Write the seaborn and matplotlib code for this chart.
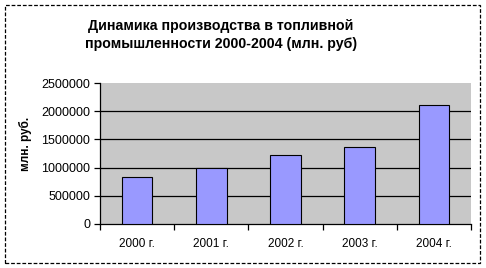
import matplotlib
matplotlib.use("Agg")
import matplotlib.pyplot as plt
import seaborn as sns
import pandas as pd
from matplotlib.patches import Rectangle
from matplotlib.ticker import FixedLocator

years = ["2000 г.", "2001 г.", "2002 г.", "2003 г.", "2004 г."]
values = [830000, 985000, 1215000, 1360000, 2105000]
yticks = [0, 500000, 1000000, 1500000, 2000000, 2500000]
title = "Динамика производства в топливной\nпромышленности 2000-2004 (млн. руб)"
ylabel = "млн. руб."

sns.set_style("white")
plt.rcParams["font.family"] = ["Liberation Sans", "DejaVu Sans"]
plt.rcParams["text.color"] = "black"
plt.rcParams["xtick.color"] = "black"
plt.rcParams["ytick.color"] = "black"
plt.rcParams["axes.labelcolor"] = "black"

df = pd.DataFrame({"year": years, "value": values})

W, H = 486, 268
fig = plt.figure(figsize=(W / 100, H / 100), dpi=100)
ax = fig.add_axes([100 / W, 1 - 224 / H, 371 / W, 141 / H])

sns.barplot(data=df, x="year", y="value", ax=ax, color="#9999ff",
            width=0.41, edgecolor="black", linewidth=0.8, saturation=1, zorder=3)

ax.set_facecolor("#c8c8c8")
ax.set_ylim(0, 2500000)
ax.set_xlim(-0.5, len(years) - 0.5)
ax.set_yticks(yticks)
ax.set_yticklabels([str(v) for v in yticks], fontsize=9)
for v in yticks[1:-1]:
    ax.axhline(v, color="black", linewidth=0.9, zorder=2)

ax.tick_params(axis="x", which="major", length=0, labelsize=8.5, pad=10)
ax.xaxis.set_minor_locator(FixedLocator([i - 0.5 for i in range(len(years) + 1)]))
ax.tick_params(axis="x", which="minor", length=4, width=0.9, color="black", direction="out", bottom=True)
ax.tick_params(axis="y", length=4, width=0.9, color="black", direction="out", left=True, pad=3)

for s in ["top", "right"]:
    ax.spines[s].set_visible(False)
for s in ["left", "bottom"]:
    ax.spines[s].set_color("black")
    ax.spines[s].set_linewidth(0.9)
ax.grid(False)

ax.set_xlabel("")
ax.set_ylabel(ylabel, fontsize=8.5, fontweight="bold")
ax.yaxis.set_label_coords(-68 / 371, 0.57)

fig.text(221 / W, 1 - 35 / H, title, ha="center", va="center",
         fontsize=10.2, fontweight="bold", linespacing=1.45)

fig.patches.append(Rectangle((5 / W, 1 - 263 / H), 475 / W, 258 / H,
                             transform=fig.transFigure, fill=False,
                             edgecolor="black", linewidth=0.9,
                             linestyle=(0, (3, 1.5))))

fig.savefig("out.png", dpi=100)
